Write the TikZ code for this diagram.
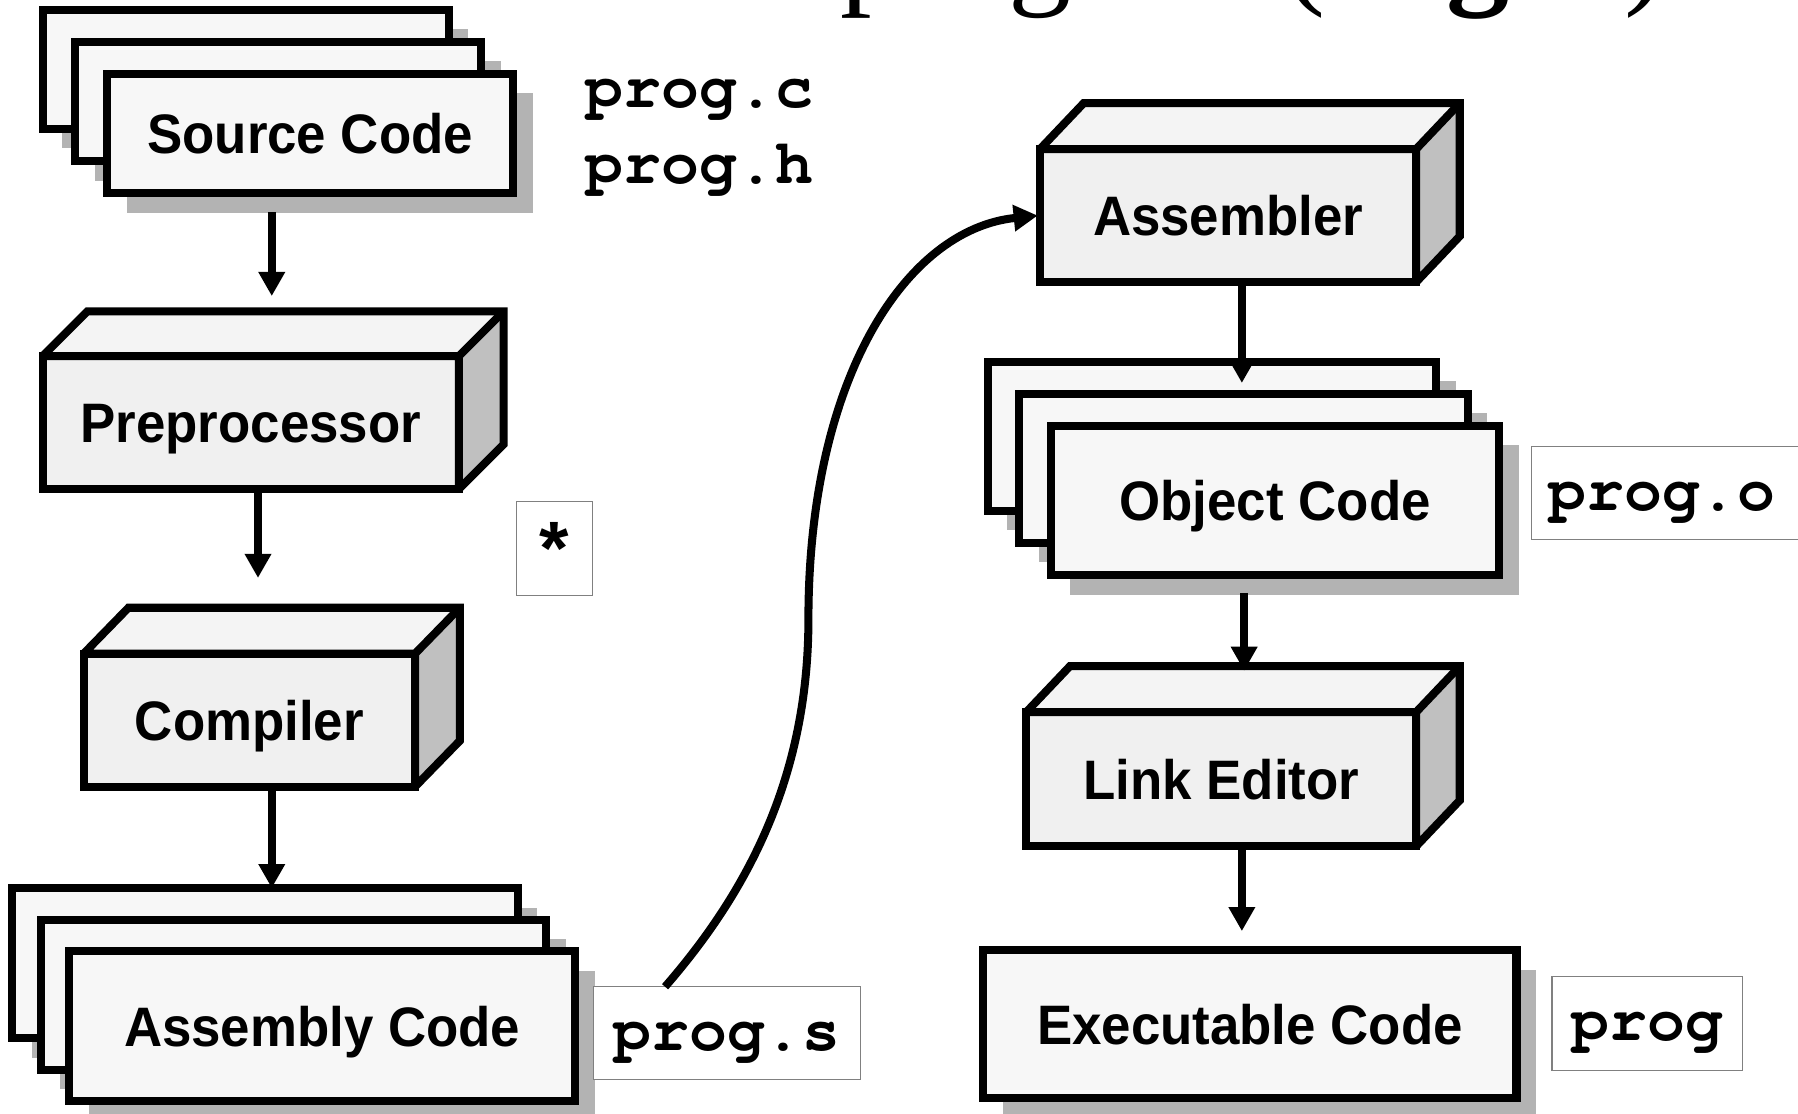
\documentclass[tikz,border=0pt]{standalone}
\usepackage[T1]{fontenc}
\usepackage{fontspec}
\usepackage{graphicx}
\setmainfont{Liberation Sans}
\newfontfamily\seriffnt{Liberation Serif}
\newcommand{\courb}{\fontencoding{T1}\fontfamily{pcr}\fontseries{b}\fontshape{n}\fontsize{55}{55}\selectfont}
\usetikzlibrary{arrows.meta,shadows}
\definecolor{sheetfill}{HTML}{F7F7F7}
\definecolor{frontfill}{HTML}{F0F0F0}
\definecolor{topfill}{HTML}{F4F4F4}
\definecolor{sidefill}{HTML}{C0C0C0}
\definecolor{shadowgray}{HTML}{B3B3B3}
\definecolor{thinborder}{HTML}{808080}
\newcommand{\boxlabel}[1]{\scalebox{0.95}[1]{\fontsize{48.5}{50}\selectfont\bfseries #1}}
\newcommand{\boxfaces}[3]{%
  \fill[topfill] (#1.north west) -- ++(#2,#3) -- ([shift={(#2,#3)}]#1.north east) -- (#1.north east) -- cycle;
  \fill[sidefill] (#1.north east) -- ++(#2,#3) -- ([shift={(#2,#3)}]#1.south east) -- (#1.south east) -- cycle;
  \draw[edgeline] (#1.north west) -- ++(#2,#3) -- ([shift={(#2,#3)}]#1.north east)
     -- ([shift={(#2,#3)}]#1.south east) -- (#1.south east) -- (#1.north east) -- cycle;
  \draw[edgeline] (#1.north east) -- ++(#2,#3);}
\tikzset{
  every node/.style={inner sep=0pt, outer sep=0pt},
  sheetbox/.style={draw, line width=7pt, fill=sheetfill, rectangle, text height=35pt, text depth=0pt,
    drop shadow={shadow xshift=17pt, shadow yshift=-17pt, fill=shadowgray, opacity=1}},
  frontbox/.style={draw, line width=7pt, fill=frontfill, rectangle, text height=35pt, text depth=0pt},
  edgeline/.style={line width=7pt, line join=miter, miter limit=2},
  namebox/.style={draw=thinborder, line width=1pt, fill=white, rectangle,
    font=\courb, text height=40pt, text depth=10pt},
  monotext/.style={font=\courb},
  arr/.style={line width=7pt, -{Triangle[length=21pt,width=22pt]}},
}
\begin{document}
\begin{tikzpicture}[x=1pt,y=-1pt]
\useasboundingbox (0,0) rectangle (1568,971);

% title (cut off at top)
\node[anchor=base west, font={\seriffnt\fontsize{110}{110}\selectfont}] (title) at (733,-7.5)
  {program\hspace{14pt}(\hspace{105pt}{\bfseries g}\hspace{100pt})};

% Source Code stack
\node[sheetbox, minimum width=354pt, minimum height=104pt] (src1) at (214.5,60.5) {};
\node[sheetbox, minimum width=354pt, minimum height=104pt] (src2) at (242.5,88.5) {};
\node[sheetbox, minimum width=354pt, minimum height=104pt] (src3) at (270.5,116.5) {\boxlabel{Source Code}};

\node[monotext, anchor=base west] (progc) at (511,94) {prog.c};
\node[monotext, anchor=base west] (progh) at (511,160) {prog.h};

% Preprocessor
\node[frontbox, minimum width=363pt, minimum height=116pt] (pre) at (218.7,368.5) {\boxlabel{Preprocessor}};
\boxfaces{pre}{39}{-39}

% star box
\node[draw=thinborder, line width=1pt, fill=white, minimum width=66pt, minimum height=82pt,
  font={\fontsize{66}{66}\selectfont\bfseries}] (star) at (483.5,478.5) {\raisebox{-22.5pt}[0pt][0pt]{*}};

% Compiler
\node[frontbox, minimum width=289pt, minimum height=116pt] (comp) at (217.5,628) {\boxlabel{Compiler}};
\boxfaces{comp}{39}{-40}

% Assembly Code stack
\node[sheetbox, minimum width=441pt, minimum height=131pt] (assy1) at (231,840) {};
\node[sheetbox, minimum width=441pt, minimum height=131pt] (assy2) at (256,867.5) {};
\node[sheetbox, minimum width=441pt, minimum height=131pt] (assy3) at (281,895) {\boxlabel{Assembly Code}};

\node[namebox, minimum width=233pt, minimum height=81pt] (progs) at (634,901) {prog.s};

% Assembler
\node[frontbox, minimum width=328pt, minimum height=116pt] (asmb) at (1071,188) {\boxlabel{Assembler}};
\boxfaces{asmb}{38}{-40}

% Object Code stack
\node[sheetbox, minimum width=391pt, minimum height=130pt] (obj1) at (1057,380.5) {};
\node[sheetbox, minimum width=391pt, minimum height=130pt] (obj2) at (1084.5,408.5) {};
\node[sheetbox, minimum width=391pt, minimum height=130pt] (obj3) at (1112,436.5) {\boxlabel{Object Code}};

\node[namebox, anchor=west, inner xsep=15pt, text width=220pt, align=left, minimum height=81pt] (progo) at (1335.5,430) {prog.o};

% Link Editor
\node[frontbox, minimum width=340pt, minimum height=117pt] (link) at (1065,679.5) {\boxlabel{Link Editor}};
\boxfaces{link}{38}{-40}

% Executable Code
\node[sheetbox, minimum width=465pt, minimum height=129pt] (exe) at (1090,893) {\boxlabel{Executable Code}};
\node[namebox, minimum width=166pt, minimum height=82pt] (prog) at (1436.5,892.5) {prog};

% connectors
\draw[arr] ([xshift=-33.5pt,yshift=-16.5pt]src3.south) -- ([xshift=18.3pt,yshift=52.3pt]pre.north);
\draw[arr] ([xshift=6.3pt]pre.south) -- ([xshift=7.5pt,yshift=66pt]comp.north);
\draw[arr] ([xshift=19.5pt]comp.south) -- ([xshift=6pt]assy1.north);
\draw[arr] ([xshift=12pt]asmb.south) -- ([xshift=26pt,yshift=-18.5pt]obj1.north);
\draw[arr] ([xshift=-27pt,yshift=-15.5pt]obj3.south) -- ([xshift=20pt,yshift=36pt]link.north);
\draw[arr] ([xshift=18pt]link.south) -- ([xshift=-7pt,yshift=16.5pt]exe.north);
\coordinate (bend) at (705,540);
\draw[arr] ([xshift=-54pt]progs.north) .. controls (650,780) and (705,680) .. (bend)
  .. controls (705,330) and (790,200) .. ([xshift=-2pt]asmb.west);
\end{tikzpicture}
\end{document}
